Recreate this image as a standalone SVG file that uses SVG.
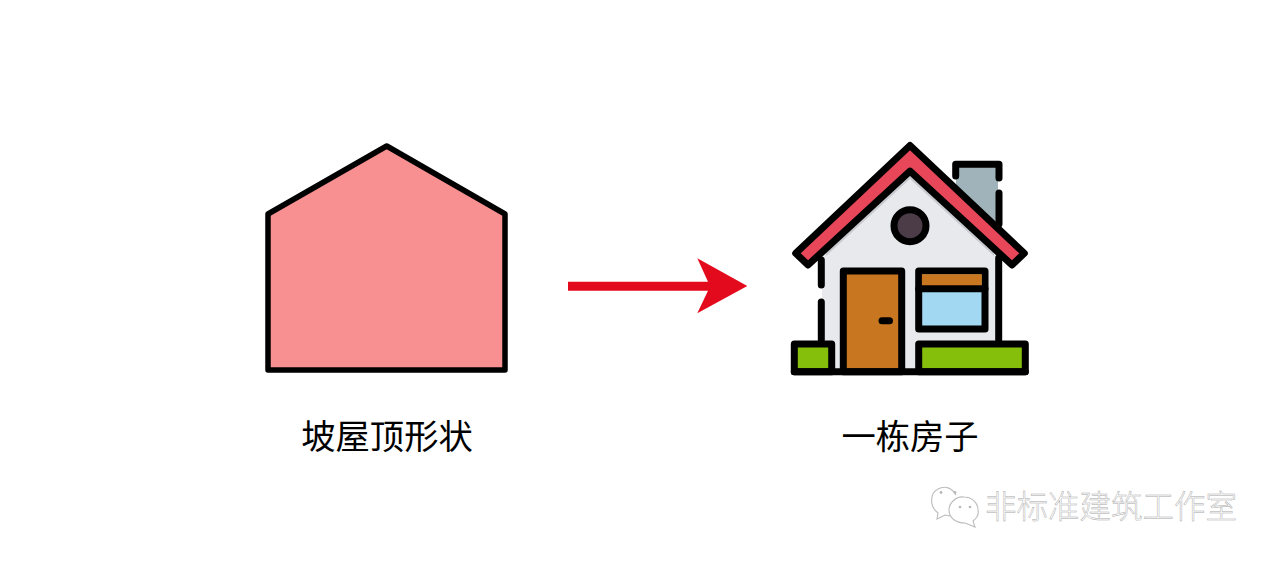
<svg xmlns="http://www.w3.org/2000/svg" width="1280" height="563" viewBox="0 0 1280 563">
<style>
.k{stroke:#000;stroke-width:7;stroke-linejoin:round;stroke-linecap:round}
.n{fill:none}
.t{font-family:"Noto Sans CJK SC","Noto Sans",sans-serif;font-size:34.300px;fill:#000;text-anchor:middle}
.w{font-family:"Noto Sans CJK SC","Noto Sans",sans-serif;font-size:31.500px;font-weight:300;fill:#fff;stroke:#a8a8a8;stroke-width:.45;text-anchor:start}
.b{fill:#fff;stroke:#bcbcbc;stroke-width:1.100}
.d{fill:#b8b8b8}
</style>
<rect width="1280" height="563" fill="#fff"/>
<g id="roof-shape">
<polygon points="268,214 386.700,146 505,214 505,370 268,370" fill="#f89092" stroke="#000" stroke-width="5.500" stroke-linejoin="round"/>
<text class="t" x="387" y="449">坡屋顶形状</text>
</g>
<g id="connectors">
<polygon points="568,281.700 708,281.700 697.300,258.300 747.300,286 697.300,313.300 708,290.700 568,290.700" fill="#e30a1d"/>
</g>
<g id="house">
<polygon points="956,166 998,166 998,225 956,185" fill="#a1b3ba"/>
<polygon points="822,255 910,170 998,255 998,345 920,345 920,371 901,371 843,371 832,371 832,345 822,345" fill="#e7e9ed"/>
<path d="M826,252 L910,171 L994,252 L994,256 L910,179 L826,256Z" fill="#c8cacf"/>
<path class="k n" d="M955.700,176 V164.300 H999 V178 M999,193 V224"/>
<polygon class="k" points="795.700,253.300 910,145.500 1024.300,253.300 1012,265 910,171.200 808,265" fill="#e8475a"/>
<circle class="k" cx="910" cy="225.700" r="16" fill="#4b3c48"/>
<path class="k n" d="M821.300,260 V285 M821.300,302 V340 M998.700,258 V340"/>
<rect class="k" x="843.300" y="271" width="58.400" height="100.700" fill="#c87720"/>
<path class="k n" d="M882,320.700 H889.500"/>
<rect class="k" x="918.700" y="271" width="66.300" height="58" fill="#a3d8f2"/>
<rect x="921.900" y="274.200" width="59.900" height="14.500" fill="#c87720"/>
<path class="k n" d="M918.700,288.700 H985"/>
<path class="k" fill="#85bf0c" d="M794.300,371.700 V344 H831.700 V371.700Z"/>
<path class="k" fill="#85bf0c" d="M918.700,371.700 V344 H1025.300 V371.700Z"/>
<path class="k n" d="M794.300,371.700 H1025.300"/>
<text class="t" x="910" y="449">一栋房子</text>
</g>
<g id="watermark">
<path class="b" d="M956,495 C952,488 945,485 938,489 C930,493 929,506 938,513 L937,519 L945,515 C948,516 950,516 952,516"/>
<path class="b" d="M964,497 C956,496 949,503 949,510 C949,518 956,523 965,523 L975,527 L973,521 C977,518 979,514 978,510 C978,503 972,497 964,497Z"/>
<circle class="d" cx="941" cy="492.500" r="1.400"/><circle class="d" cx="955" cy="492.500" r="1.400"/>
<circle class="d" cx="960" cy="507" r="1.300"/><circle class="d" cx="970" cy="507" r="1.300"/>
<text class="w" x="985" y="518">非标准建筑工作室</text>
</g>
</svg>
